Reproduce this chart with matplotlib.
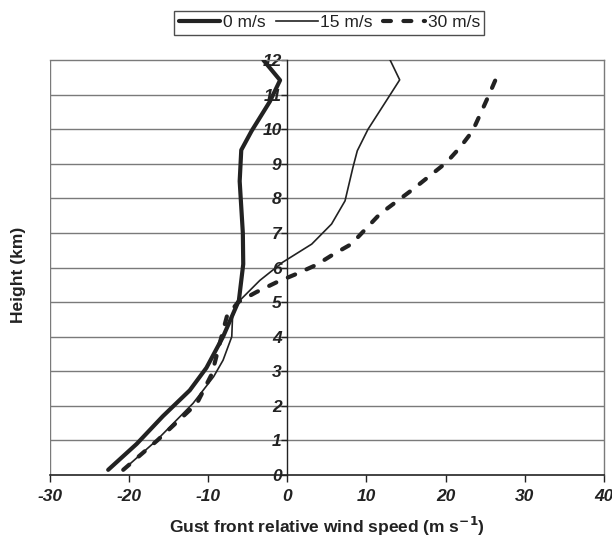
import matplotlib

matplotlib.use("Agg")
import matplotlib.pyplot as plt

# Gust front relative wind profiles
HEIGHT_0 = [0.15, 0.9, 1.7, 2.45, 3.1, 4.0, 5.05, 6.1, 7.0, 8.5, 9.4, 9.95, 10.8, 11.42, 12.0]
WIND_0 = [-22.6, -19.0, -15.7, -12.3, -10.2, -8.1, -6.1, -5.55, -5.6, -6.0, -5.8, -4.5, -2.2, -0.9, -3.0]

HEIGHT_15 = [0.15, 1.0, 2.07, 2.84, 3.32, 4.0, 4.57, 5.0, 5.63, 6.15, 6.68, 7.26, 7.93, 8.9, 9.38, 10.0, 11.0, 11.43, 12.0]
WIND_15 = [-20.7, -16.5, -11.9, -9.3, -8.1, -7.0, -6.9, -6.2, -3.45, -0.6, 3.1, 5.6, 7.3, 8.3, 8.85, 10.2, 13.0, 14.2, 13.0]

HEIGHT_30 = [0.15, 1.0, 2.07, 2.93, 4.0, 4.6, 5.0, 5.29, 5.58, 5.82, 6.08, 6.38, 6.68, 7.55, 8.27, 9.04, 9.47, 9.95, 10.5, 11.06, 11.7]
WIND_30 = [-20.7, -16.4, -11.4, -9.5, -8.3, -7.6, -6.2, -3.9, -1.3, 1.2, 3.7, 5.8, 8.1, 11.7, 15.9, 20.1, 21.8, 23.4, 24.5, 25.6, 26.8]

X_TICKS = [-30, -20, -10, 0, 10, 20, 30, 40]
Y_TICKS = list(range(0, 13))

INK = "#222222"
GRID = "#7a7a7a"

plt.rcParams.update({"font.family": ["Liberation Sans", "DejaVu Sans"]})

fig = plt.figure(figsize=(6.12, 5.42), dpi=100)
ax = fig.add_axes([0.081, 0.1236, 0.906, 0.7654])

# Excel style: the value axis crosses at x = 0 (set before the tick labels,
# moving the spine resets them)
ax.spines["left"].set_position(("data", 0))
ax.spines["left"].set_color(INK)
ax.spines["left"].set_linewidth(1.0)
ax.spines["left"].set_zorder(3)
ax.spines["bottom"].set_color(INK)
ax.spines["bottom"].set_linewidth(1.2)
for side in ("top", "right"):
    ax.spines[side].set_color(GRID)
    ax.spines[side].set_linewidth(1.0)
ax.axvline(-30, color=GRID, linewidth=1.0, zorder=1)

ax.plot(WIND_0, HEIGHT_0, color=INK, linewidth=3.0, solid_joinstyle="round",
        solid_capstyle="round", label="0 m/s", zorder=4)
ax.plot(WIND_15, HEIGHT_15, color=INK, linewidth=1.2, label="15 m/s", zorder=4)
ax.plot(WIND_30, HEIGHT_30, color=INK, linewidth=3.0, linestyle=(0, (1.9, 3.0)),
        dash_capstyle="round", label="30 m/s", zorder=4)

ax.set_xlim(-30, 40)
ax.set_ylim(0, 12)
ax.set_xticks(X_TICKS)
ax.set_yticks(Y_TICKS)
ax.set_xticklabels([str(v) for v in X_TICKS], fontsize=12.5, fontweight="bold",
                   fontstyle="italic", color=INK)
ax.set_yticklabels([str(v) for v in Y_TICKS], fontsize=12.5, fontweight="bold",
                   fontstyle="italic", color=INK)

ax.tick_params(axis="x", direction="out", length=5, width=1, color=INK, pad=5)
ax.tick_params(axis="y", direction="out", length=4, width=1, color=INK, pad=0)

for h in Y_TICKS[1:-1]:
    ax.axhline(h, color=GRID, linewidth=1.0, zorder=1)

ax.set_xlabel("Gust front relative wind speed (m s$^{\\mathbf{-1}}$)", fontsize=12.5,
              fontweight="bold", color=INK, labelpad=8)
fig.text(0.03, 0.493, "Height (km)", rotation=90, fontsize=12.5, fontweight="bold",
         color=INK, ha="center", va="center")

leg = fig.legend(loc="center", bbox_to_anchor=(0.538, 0.958), ncol=3, frameon=True,
                 fancybox=False, edgecolor=INK, fontsize=12.5, handlelength=2.4,
                 handletextpad=0.15, columnspacing=0.6, borderpad=0.25)
leg.get_frame().set_linewidth(1.0)
for txt in leg.get_texts():
    txt.set_color(INK)

fig.savefig("out.png", dpi=100)
